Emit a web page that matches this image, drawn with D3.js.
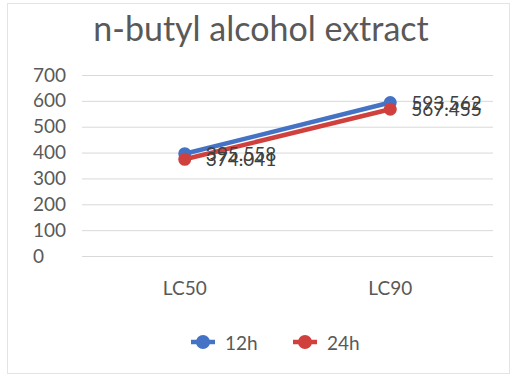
<!DOCTYPE html>
<html><head><meta charset="utf-8">
<script src="https://cdn.jsdelivr.net/npm/d3@7"></script>
<style>body{margin:0;background:#fff}svg{display:block}</style>
</head><body>
<script>
const categories = ["LC50", "LC90"];
const seriesNames = ["12h", "24h"];
const values12h = [395.558, 593.562];
const values24h = [374.041, 567.455];
const yTicks = [0, 100, 200, 300, 400, 500, 600, 700];
const title = "n-butyl alcohol extract";

const W = 512, H = 379;
const colors = ["#4472C4", "#D0413E"];
const svg = d3.select("body").append("svg").attr("width", W).attr("height", H);
svg.append("rect").attr("x", 7.5).attr("y", 3.5).attr("width", 502).attr("height", 370)
  .attr("fill", "#fff").attr("stroke", "#e4e4e4");

const x = d3.scaleBand().domain(categories).range([82, 493]);
const y = d3.scaleLinear().domain([0, 700]).range([256, 75]);
const font = "Lato, 'Open Sans', sans-serif";

svg.append("text").attr("x", 261).attr("y", 41).attr("text-anchor", "middle")
  .attr("font-family", font).attr("font-size", 34).attr("fill", "#595959").text(title);

const yAxis = svg.append("g").attr("transform", "translate(82,0)")
  .call(d3.axisLeft(y).tickValues(yTicks).tickSize(-411).tickPadding(0));
yAxis.select(".domain").remove();
yAxis.selectAll("line").attr("stroke", "#d9d9d9").attr("stroke-width", 1);
yAxis.selectAll("text").attr("x", -49).attr("text-anchor", "start")
  .attr("font-family", font).attr("font-size", 19).attr("fill", "#595959");

const xAxis = svg.append("g").attr("transform", "translate(0,256)")
  .call(d3.axisBottom(x).tickSize(0).tickPadding(0));
xAxis.select(".domain").remove();
xAxis.selectAll("text").attr("dy", null).attr("y", 39)
  .attr("font-family", font).attr("font-size", 19).attr("fill", "#595959");

const series = [values12h, values24h];
const cx = (i) => x(categories[i]) + x.bandwidth() / 2;
const line = d3.line().x((d, i) => cx(i)).y(d => y(d));
series.forEach((vals, si) => {
  svg.append("path").datum(vals).attr("d", line).attr("fill", "none")
    .attr("stroke", colors[si]).attr("stroke-width", 4.5).attr("stroke-linecap", "round");
  svg.selectAll(null).data(vals).enter().append("circle")
    .attr("cx", (d, i) => cx(i)).attr("cy", d => y(d))
    .attr("r", 6.5).attr("fill", colors[si]);
});
series.forEach((vals, si) => {
  svg.selectAll(null).data(vals).enter().append("text")
    .attr("x", (d, i) => cx(i) + 21).attr("y", d => y(d) + 7)
    .attr("font-family", font).attr("font-size", 19).attr("fill", "#404040")
    .text(d => d3.format(".3f")(d));
});

const legend = svg.append("g").attr("transform", "translate(0,342)");
const legX = [203, 305];
seriesNames.forEach((n, i) => {
  legend.append("line").attr("x1", legX[i] - 12).attr("x2", legX[i] + 12)
    .attr("stroke", colors[i]).attr("stroke-width", 4.5);
  legend.append("circle").attr("cx", legX[i]).attr("r", 7).attr("fill", colors[i]);
  legend.append("text").attr("x", legX[i] + 22).attr("y", 8).attr("font-family", font)
    .attr("font-size", 19).attr("fill", "#595959").text(n);
});
</script>
</body></html>
